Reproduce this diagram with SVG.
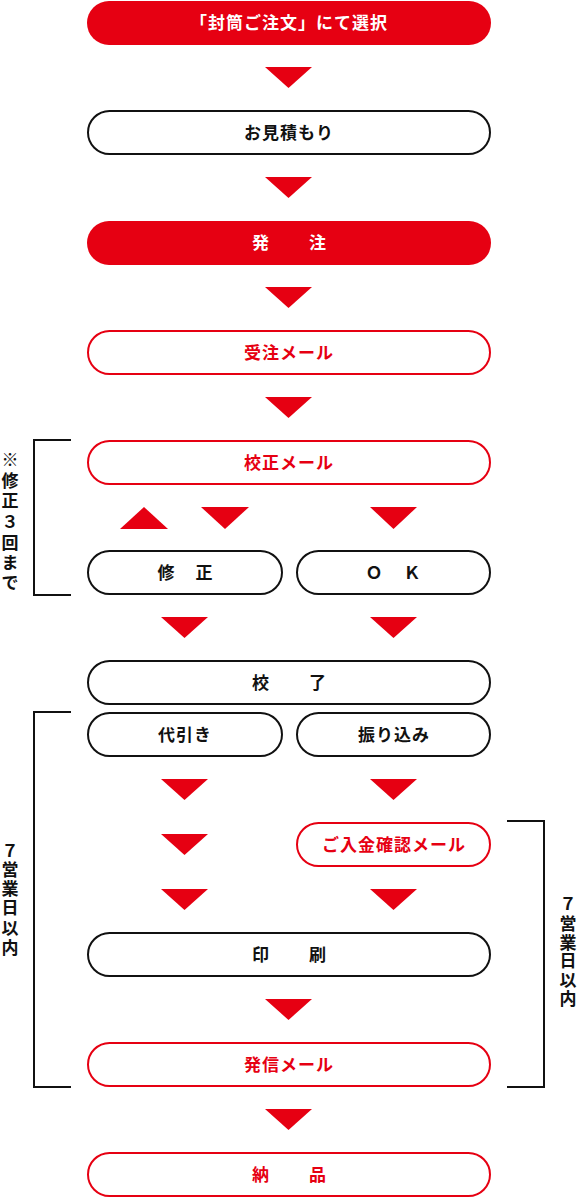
<svg xmlns="http://www.w3.org/2000/svg" width="578" height="1198" viewBox="0 0 578 1198">
<style>
text{font-family:"Noto Sans CJK JP","Noto Sans",sans-serif;font-weight:bold;font-size:17px;text-anchor:middle;letter-spacing:1px}
.fill{fill:#e60012;stroke:none}
.rb{fill:#fff;stroke:#e60012;stroke-width:2}
.bb{fill:#fff;stroke:#111;stroke-width:2}
.tw{fill:#fff}
.tr{fill:#e60012}
.tk{fill:#111}
.sp{letter-spacing:2px}
.arr{fill:#e60012}
.br{fill:none;stroke:#111;stroke-width:2}
.vt{font-size:17px;letter-spacing:0;fill:#111}
</style>
<g id="connectors">
<polygon class="arr" points="265,67 312,67 288.5,88"/>
<polygon class="arr" points="265,177 312,177 288.5,198"/>
<polygon class="arr" points="265,287 312,287 288.5,308"/>
<polygon class="arr" points="265,397 312,397 288.5,418"/>
<polygon class="arr" points="120,529 168,529 144,507"/>
<polygon class="arr" points="201,507 249,507 225,529"/>
<polygon class="arr" points="370,507 417,507 393.5,529"/>
<polygon class="arr" points="161,617 208,617 184.5,638"/>
<polygon class="arr" points="370,617 417,617 393.5,638"/>
<polygon class="arr" points="161,779 208,779 184.5,800"/>
<polygon class="arr" points="370,779 417,779 393.5,800"/>
<polygon class="arr" points="161,834 208,834 184.5,855"/>
<polygon class="arr" points="161,889 208,889 184.5,910"/>
<polygon class="arr" points="370,889 417,889 393.5,910"/>
<polygon class="arr" points="265,999 312,999 288.5,1020"/>
<polygon class="arr" points="265,1109 312,1109 288.5,1130"/>
</g>
<g id="n1"><rect class="fill" x="87" y="1" width="404" height="44" rx="22"/><text class="tw" x="289" y="29">「封筒ご注文」にて選択</text></g>
<g id="n2"><rect class="bb" x="88" y="111" width="402" height="43" rx="21.5"/><text class="tk" x="289" y="139">お見積もり</text></g>
<g id="n3"><rect class="fill" x="87" y="221" width="404" height="44" rx="22"/><text class="tw sp" x="290" y="249">発　　注</text></g>
<g id="n4"><rect class="rb" x="88" y="331" width="402" height="43" rx="21.5"/><text class="tr" x="289" y="359">受注メール</text></g>
<g id="n5"><rect class="rb" x="88" y="441" width="402" height="43" rx="21.5"/><text class="tr" x="289" y="469">校正メール</text></g>
<g id="n6"><rect class="bb" x="88" y="551" width="194" height="43" rx="21.5"/><text class="tk sp" x="186" y="579">修　正</text></g>
<g id="n7"><rect class="bb" x="297" y="551" width="193" height="43" rx="21.5"/><text class="tk sp" x="394" y="579">Ｏ　Ｋ</text></g>
<g id="n8"><rect class="bb" x="88" y="661" width="402" height="43" rx="21.5"/><text class="tk sp" x="290" y="689">校　　了</text></g>
<g id="n9"><rect class="bb" x="88" y="713" width="194" height="43" rx="21.5"/><text class="tk" x="185" y="741">代引き</text></g>
<g id="n10"><rect class="bb" x="297" y="713" width="193" height="43" rx="21.5"/><text class="tk" x="394" y="741">振り込み</text></g>
<g id="n11"><rect class="rb" x="297" y="823" width="193" height="43" rx="21.5"/><text class="tr" x="394" y="851">ご入金確認メール</text></g>
<g id="n12"><rect class="bb" x="88" y="933" width="402" height="43" rx="21.5"/><text class="tk sp" x="290" y="961">印　　刷</text></g>
<g id="n13"><rect class="rb" x="88" y="1043" width="402" height="43" rx="21.5"/><text class="tr" x="289" y="1071">発信メール</text></g>
<g id="n14"><rect class="rb" x="88" y="1153" width="402" height="43" rx="21.5"/><text class="tr sp" x="290" y="1181">納　　品</text></g>
<g id="brackets">
<path class="br" d="M71 440 H34 V595 H71"/>
<path class="br" d="M71 712 H34 V1087 H71"/>
<path class="br" d="M507 821 H544 V1087 H507"/>
<text class="vt"><tspan x="10" y="466">※</tspan><tspan x="10" y="487">修</tspan><tspan x="10" y="507">正</tspan><tspan x="10" y="528">３</tspan><tspan x="10" y="549">回</tspan><tspan x="10" y="569">ま</tspan><tspan x="10" y="589">で</tspan></text>
<text class="vt"><tspan x="10" y="857">７</tspan><tspan x="10" y="876">営</tspan><tspan x="10" y="895">業</tspan><tspan x="10" y="914">日</tspan><tspan x="10" y="934">以</tspan><tspan x="10" y="954">内</tspan></text>
<text class="vt"><tspan x="568" y="910">７</tspan><tspan x="568" y="930">営</tspan><tspan x="568" y="949">業</tspan><tspan x="568" y="967">日</tspan><tspan x="568" y="986">以</tspan><tspan x="568" y="1005">内</tspan></text>
</g>
</svg>
